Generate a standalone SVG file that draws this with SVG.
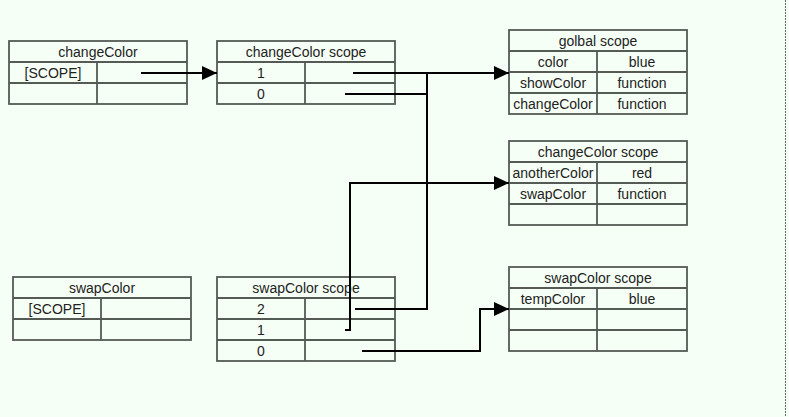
<svg xmlns="http://www.w3.org/2000/svg" width="789" height="417" viewBox="0 0 789 417">
<style>
.bg{fill:#f6fff6}
.box{fill:none;stroke:#555a55;stroke-width:1.8}
.ln{stroke:#555a55;stroke-width:1.8}
text{font-family:"Liberation Sans",Arial,sans-serif;font-size:14px;fill:#222;text-anchor:middle}
.con{fill:none;stroke:#000;stroke-width:2}
</style>
<defs>
<marker id="ah" markerUnits="userSpaceOnUse" markerWidth="16" markerHeight="14" refX="15" refY="7" orient="auto">
<path d="M0,0 L15,7 L0,14 Z" fill="#000"/>
</marker>
</defs>
<rect class="bg" x="0" y="0" width="789" height="417"/>
<line x1="785.5" y1="0" x2="785.5" y2="417" stroke="#666" stroke-width="1" stroke-dasharray="2,1"/>

<g id="changeColor">
<rect class="box" x="9" y="41" width="178" height="63"/>
<line class="ln" x1="9" y1="62" x2="187" y2="62"/>
<line class="ln" x1="9" y1="83" x2="187" y2="83"/>
<line class="ln" x1="97" y1="62" x2="97" y2="104"/>
<text x="98" y="57">changeColor</text>
<text x="53" y="78">[SCOPE]</text>
</g>

<g id="changeColorScope1">
<rect class="box" x="217" y="41" width="178" height="63"/>
<line class="ln" x1="217" y1="62" x2="395" y2="62"/>
<line class="ln" x1="217" y1="83" x2="395" y2="83"/>
<line class="ln" x1="305" y1="62" x2="305" y2="104"/>
<text x="306" y="57">changeColor scope</text>
<text x="261" y="78">1</text>
<text x="261" y="99">0</text>
</g>

<g id="globalScope">
<rect class="box" x="509" y="30" width="178" height="84"/>
<line class="ln" x1="509" y1="51" x2="687" y2="51"/>
<line class="ln" x1="509" y1="72" x2="687" y2="72"/>
<line class="ln" x1="509" y1="93" x2="687" y2="93"/>
<line class="ln" x1="597" y1="51" x2="597" y2="114"/>
<text x="598" y="46">golbal scope</text>
<text x="553" y="67">color</text>
<text x="642" y="67">blue</text>
<text x="553" y="88">showColor</text>
<text x="642" y="88">function</text>
<text x="553" y="109">changeColor</text>
<text x="642" y="109">function</text>
</g>

<g id="changeColorScope2">
<rect class="box" x="509" y="141" width="178" height="84"/>
<line class="ln" x1="509" y1="162" x2="687" y2="162"/>
<line class="ln" x1="509" y1="183" x2="687" y2="183"/>
<line class="ln" x1="509" y1="204" x2="687" y2="204"/>
<line class="ln" x1="597" y1="162" x2="597" y2="225"/>
<text x="598" y="157">changeColor scope</text>
<text x="553" y="178">anotherColor</text>
<text x="642" y="178">red</text>
<text x="553" y="199">swapColor</text>
<text x="642" y="199">function</text>
</g>

<g id="swapColor">
<rect class="box" x="13" y="277" width="178" height="63"/>
<line class="ln" x1="13" y1="298" x2="191" y2="298"/>
<line class="ln" x1="13" y1="319" x2="191" y2="319"/>
<line class="ln" x1="101" y1="298" x2="101" y2="340"/>
<text x="102" y="293">swapColor</text>
<text x="57" y="314">[SCOPE]</text>
</g>

<g id="swapColorScope1">
<rect class="box" x="217" y="277" width="178" height="84"/>
<line class="ln" x1="217" y1="298" x2="395" y2="298"/>
<line class="ln" x1="217" y1="319" x2="395" y2="319"/>
<line class="ln" x1="217" y1="340" x2="395" y2="340"/>
<line class="ln" x1="305" y1="298" x2="305" y2="361"/>
<text x="306" y="293">swapColor scope</text>
<text x="261" y="314">2</text>
<text x="261" y="335">1</text>
<text x="261" y="356">0</text>
</g>

<g id="swapColorScope2">
<rect class="box" x="509" y="267" width="178" height="84"/>
<line class="ln" x1="509" y1="288" x2="687" y2="288"/>
<line class="ln" x1="509" y1="309" x2="687" y2="309"/>
<line class="ln" x1="509" y1="330" x2="687" y2="330"/>
<line class="ln" x1="597" y1="288" x2="597" y2="351"/>
<text x="598" y="283">swapColor scope</text>
<text x="553" y="304">tempColor</text>
<text x="642" y="304">blue</text>
</g>

<g id="connectors">
<path class="con" d="M141,73 H217" marker-end="url(#ah)"/>
<path class="con" d="M353,73 H509" marker-end="url(#ah)"/>
<path class="con" d="M345,94 H427"/>
<path class="con" d="M427,73 V309 H355"/>
<path class="con" d="M345,330 H350 V183 H509" marker-end="url(#ah)"/>
<path class="con" d="M362,351 H480 V309 H509" marker-end="url(#ah)"/>
</g>
</svg>
